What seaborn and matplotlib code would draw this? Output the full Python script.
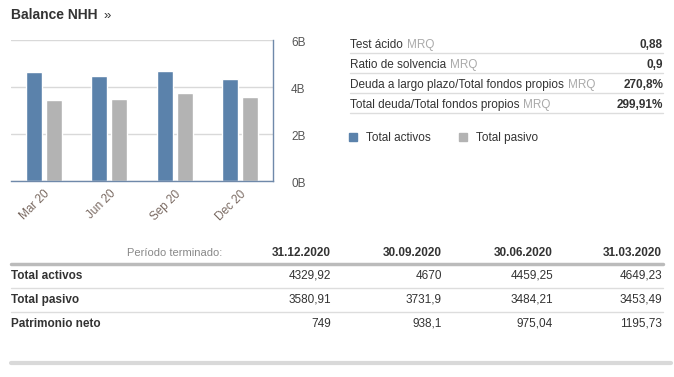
import pandas as pd
import matplotlib
matplotlib.use('Agg')
import matplotlib.pyplot as plt
from matplotlib.patches import Rectangle
from matplotlib.lines import Line2D
import seaborn as sns

# chart data (billions)
quarters = ['Mar 20', 'Jun 20', 'Sep 20', 'Dec 20']
total_activos = [4.64923, 4.45925, 4.670, 4.32992]
total_pasivo = [3.45349, 3.48421, 3.7319, 3.58091]
y_ticks = [0, 2, 4, 6]
y_labels = ['0B', '2B', '4B', '6B']

# ratio panel
ratio_names = ['Test ácido', 'Ratio de solvencia', 'Deuda a largo plazo/Total fondos propios',
               'Total deuda/Total fondos propios']
ratio_values = ['0,88', '0,9', '270,8%', '299,91%']

# balance table
periods = ['31.12.2020', '30.09.2020', '30.06.2020', '31.03.2020']
row_names = ['Total activos', 'Total pasivo', 'Patrimonio neto']
row_values = [
    ['4329,92', '4670', '4459,25', '4649,23'],
    ['3580,91', '3731,9', '3484,21', '3453,49'],
    ['749', '938,1', '975,04', '1195,73'],
]

BLUE = '#5b82ab'
GRAY = '#b3b3b3'
TXT = '#333333'

sns.set_style('white')
plt.rcParams['font.family'] = ['Liberation Sans', 'DejaVu Sans']

W, H = 674, 377
fig = plt.figure(figsize=(W / 100, H / 100), dpi=100)


def fx(x):
    return x / W


def fy(y):
    return 1 - y / H


# --- bar chart ---
ax = fig.add_axes([fx(11), fy(181), fx(273) - fx(11), fy(40) - fy(181)])
df = pd.DataFrame({
    'quarter': quarters * 2,
    'value': total_activos + total_pasivo,
    'serie': ['Total activos'] * 4 + ['Total pasivo'] * 4,
})
sns.barplot(data=df, x='quarter', y='value', hue='serie', order=quarters,
            palette=[BLUE, GRAY], width=0.61, gap=0.2, saturation=1,
            legend=False, ax=ax)
ax.set_xlim(-0.5, 3.5)
ax.set_ylim(0, 6)
ax.set_xlabel('')
ax.set_ylabel('')
ax.yaxis.tick_right()
ax.set_yticks(y_ticks)
ax.set_yticklabels(y_labels, va='top')
ax.tick_params(axis='y', length=0, pad=13, labelsize=8.5, labelcolor='#555555')
for lbl in ax.get_yticklabels():
    lbl.set_y(lbl.get_position()[1])
ax.grid(axis='y', color='#d9d9d9', linewidth=1)
ax.set_axisbelow(True)
for s in ['top', 'left']:
    ax.spines[s].set_visible(False)
for s in ['bottom', 'right']:
    ax.spines[s].set_color('#6f89aa')
    ax.spines[s].set_linewidth(1)
ax.set_xticks(range(len(quarters)))
ax.set_xticklabels(quarters, rotation=45, ha='right', rotation_mode='anchor')
ax.tick_params(axis='x', length=0, pad=5, labelsize=8.5, labelcolor='#7a6a62')
ax.set_xticks([0.5, 1.5, 2.5, 3.5], minor=True)
ax.tick_params(axis='x', which='minor', length=4, color='#6f89aa', width=1)

# y labels sit slightly below their gridlines in the reference
for lbl in ax.get_yticklabels():
    lbl.set_verticalalignment('center')
    lbl.set_transform(lbl.get_transform() + matplotlib.transforms.ScaledTranslation(0, -3 / 100, fig.dpi_scale_trans))

# title
fig.text(fx(11), fy(15), 'Balance NHH', fontsize=10, fontweight='bold', color=TXT, va='center')
fig.text(fx(103), fy(16), '»', fontsize=9.5, color=TXT, va='center')

# --- ratio panel ---
fig.canvas.draw()
r = fig.canvas.get_renderer()
for i, (name, val) in enumerate(zip(ratio_names, ratio_values)):
    yb = 48 + 20 * i
    t = fig.text(fx(350), fy(yb), name, fontsize=8.5, color=TXT, va='baseline')
    bb = t.get_window_extent(renderer=r)
    fig.text(bb.x1 / W + fx(4), fy(yb), 'MRQ', fontsize=8.5, color='#aaaaaa', va='baseline')
    fig.text(fx(663), fy(yb), val, fontsize=8.5, fontweight='bold', color=TXT, va='baseline', ha='right')
    fig.add_artist(Line2D([fx(350), fx(663)], [fy(52.5 + 20 * i)] * 2, color='#dddddd', linewidth=1))

# legend
for x0, lab, col in [(349, 'Total activos', BLUE), (459, 'Total pasivo', GRAY)]:
    fig.add_artist(Rectangle((fx(x0), fy(141)), fx(8), fy(133) - fy(141), color=col, transform=fig.transFigure))
    fig.text(fx(x0 + 17), fy(141), lab, fontsize=8.5, color=TXT, va='baseline')

# --- bottom table ---
col_right = [331, 442, 553, 662]
fig.text(fx(222), fy(253), 'Período terminado:', fontsize=8, color='#888888', ha='right', va='center')
for x, p in zip(col_right, periods):
    fig.text(fx(x), fy(253), p, fontsize=8.5, fontweight='bold', color=TXT, ha='right', va='center')
fig.add_artist(Line2D([fx(11), fx(663)], [fy(264)] * 2, color='#bbbbbb', linewidth=2.5))
row_y = [276, 300, 324]
for i, (name, vals) in enumerate(zip(row_names, row_values)):
    fig.text(fx(11), fy(row_y[i]), name, fontsize=8.5, fontweight='bold', color=TXT, va='center')
    for x, v in zip(col_right, vals):
        fig.text(fx(x), fy(row_y[i]), v, fontsize=8.5, color=TXT, ha='right', va='center')
    if i < 2:
        fig.add_artist(Line2D([fx(11), fx(663)], [fy(288 + 24 * i)] * 2, color='#dddddd', linewidth=1))
fig.add_artist(Line2D([fx(11), fx(671)], [fy(363)] * 2, color='#d9d9d9', linewidth=3))

fig.savefig('out.png', dpi=100)
